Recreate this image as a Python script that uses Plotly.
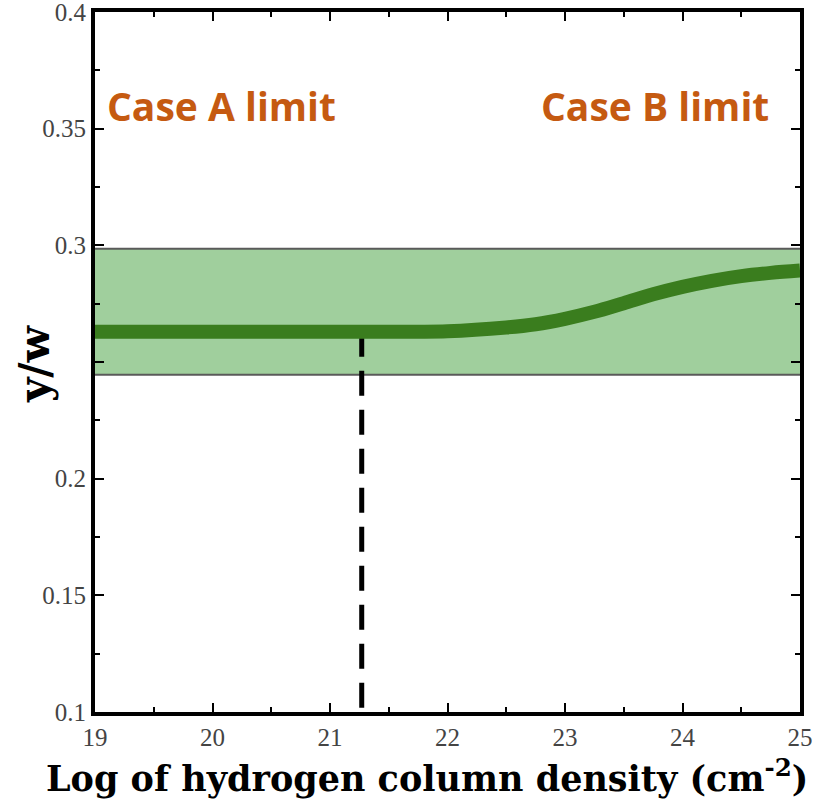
import plotly.graph_objects as go

# y/w ratio versus log hydrogen column density
log_nh = [19, 20, 21, 22, 22.5, 22.75, 23, 23.25, 23.5, 23.75, 24, 24.25, 24.5, 24.75, 25]
y_over_w = [0.263, 0.263, 0.263, 0.2632, 0.2648, 0.2662, 0.2685, 0.2715, 0.2752, 0.279,
            0.2822, 0.2848, 0.2868, 0.2882, 0.2892]

# observed range (shaded band)
band_lo = 0.2445
band_hi = 0.2985

# transition marker
marker_x = 21.27
marker_y_top = 0.263
y_floor = 0.1

x_ticks = [19, 20, 21, 22, 23, 24, 25]
y_ticks = [0.1, 0.15, 0.2, 0.25, 0.3, 0.35, 0.4]
y_tick_text = ["0.1", "0.15", "0.2", "", "0.3", "0.35", "0.4"]

label_a = "Case A limit"
label_b = "Case B limit"
x_title = "Log of hydrogen column density (cm<sup>-2</sup>)"
y_title = "y/w"

BAND_FILL = "#a0cf9d"
BAND_EDGE = "#5a5a5a"
CURVE = "#3a7d1e"
ORANGE = "#c55a11"
SERIF = "Liberation Serif, Times New Roman, serif"
TITLE_SERIF = "DejaVu Serif, serif"

fig = go.Figure()

# shaded band
fig.add_trace(go.Scatter(
    x=[x_ticks[0], x_ticks[-1], x_ticks[-1], x_ticks[0], x_ticks[0]],
    y=[band_lo, band_lo, band_hi, band_hi, band_lo],
    fill="toself", fillcolor=BAND_FILL, mode="none",
    hoverinfo="skip", showlegend=False,
))
for yb in (band_lo, band_hi):
    fig.add_trace(go.Scatter(
        x=[x_ticks[0], x_ticks[-1]], y=[yb, yb], mode="lines",
        line=dict(color=BAND_EDGE, width=2), hoverinfo="skip", showlegend=False,
    ))

# dashed vertical marker
fig.add_trace(go.Scatter(
    x=[marker_x, marker_x], y=[marker_y_top, y_floor], mode="lines",
    line=dict(color="black", width=5, dash="25px,14px"),
    showlegend=False,
))

# model curve
fig.add_trace(go.Scatter(
    x=log_nh, y=y_over_w, mode="lines",
    line=dict(color=CURVE, width=14, shape="spline", smoothing=1.0),
    showlegend=False,
))

fig.add_annotation(x=20.08, y=0.360, text=f"<b>{label_a}</b>", showarrow=False,
                   font=dict(family="Open Sans, Lato, sans-serif", size=39, color=ORANGE))
fig.add_annotation(x=23.77, y=0.360, text=f"<b>{label_b}</b>", showarrow=False,
                   font=dict(family="Open Sans, Lato, sans-serif", size=39, color=ORANGE))

# axis titles
fig.add_annotation(xref="paper", yref="paper", x=0.471, y=-0.092,
                   xanchor="center", yanchor="middle", showarrow=False,
                   text=f"<b>{x_title}</b>",
                   font=dict(family=TITLE_SERIF, size=35, color="black"))
fig.add_annotation(xref="paper", yref="paper", x=-0.0865, y=0.497,
                   xanchor="center", yanchor="middle", showarrow=False, textangle=-90,
                   text=f"<b>{y_title}</b>",
                   font=dict(family=TITLE_SERIF, size=42, color="black"))

axis_common = dict(
    showgrid=False, zeroline=False, automargin=False, ticklabeloverflow="allow",
    showline=True, linecolor="black", linewidth=4, mirror="allticks",
    ticks="inside", ticklen=9, tickwidth=2, tickcolor="black",
    tickfont=dict(family=SERIF, size=25, color="#444444"),
)

fig.update_xaxes(
    range=[19, 25], tickvals=x_ticks,
    minor=dict(dtick=0.5, ticks="inside", ticklen=5, tickwidth=2, tickcolor="black"),
    **axis_common,
)
fig.update_yaxes(
    range=[0.1, 0.4], tickvals=y_ticks, ticktext=y_tick_text,
    minor=dict(dtick=0.025, tick0=0.1, ticks="inside", ticklen=5, tickwidth=2, tickcolor="black"),
    **axis_common,
)

fig.update_layout(
    width=815, height=806,
    margin=dict(l=95, r=15, t=12, b=94),
    plot_bgcolor="white", paper_bgcolor="white",
)

fig.write_html("out.html")
